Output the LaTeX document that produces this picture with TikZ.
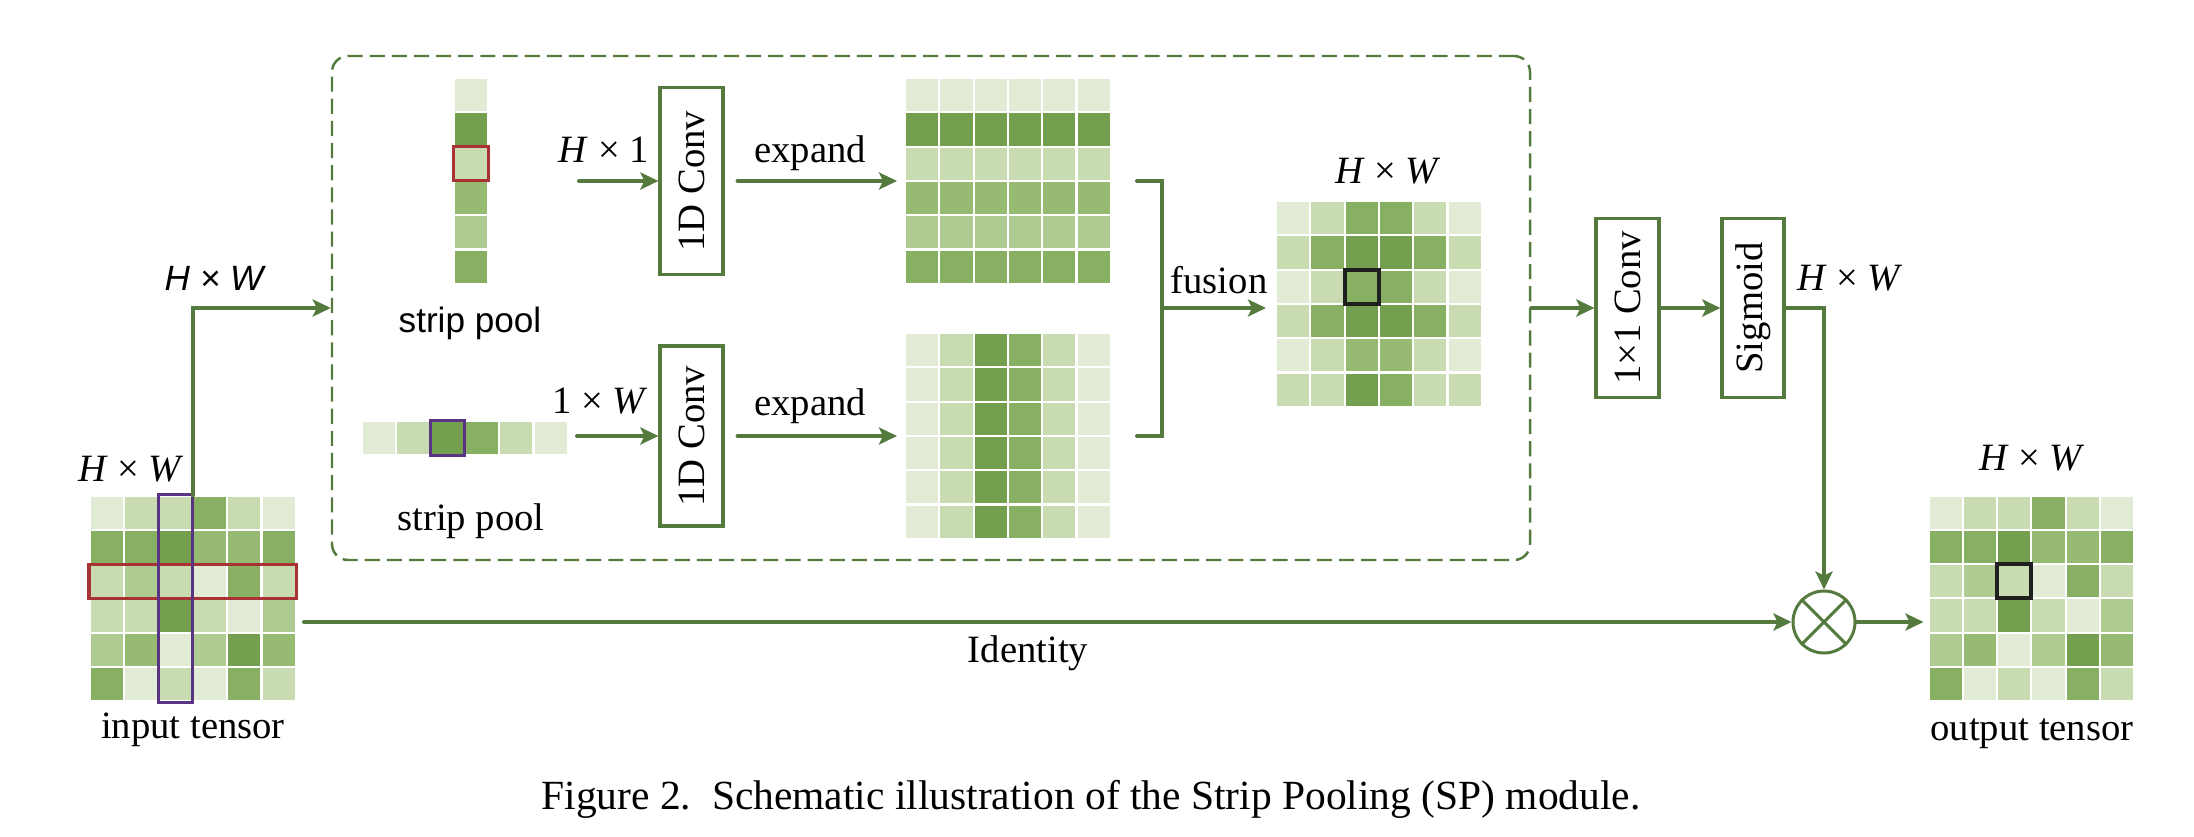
\documentclass[tikz,border=0pt]{standalone}
\usepackage{fontspec}
\setmainfont{Liberation Serif}
\setsansfont{Liberation Sans}
\usepackage{graphicx}
\usepackage{tikz}
\usetikzlibrary{arrows.meta,positioning}
\definecolor{darkgreen}{RGB}{84,122,62}
\definecolor{g1}{HTML}{E2EBD6}
\definecolor{g2}{HTML}{C9DBB0}
\definecolor{g3}{HTML}{AFCB91}
\definecolor{g4}{HTML}{97BA72}
\definecolor{g5}{HTML}{88B062}
\definecolor{g6}{HTML}{739F4F}
\definecolor{markred}{RGB}{168,50,52}
\definecolor{markpurple}{RGB}{88,52,130}

\newcommand{\lblfont}{\fontsize{11}{13}\selectfont}
\newcommand{\hxw}{\textit{H} × \textit{W}}
\newcommand{\cellsz}{0.343}
% one coloured cell grid, filled row by row from the top left corner of a node
\newcommand{\cellgrid}[2]{%
  \foreach \cellrow [count=\ri from 0] in {#2}
    \foreach \cellval [count=\ci from 0] in \cellrow
      \draw[cell, fill=g\cellval] ([shift={(\ci*\cellsz,-\ri*\cellsz)}]#1.north west) rectangle ++(\cellsz,-\cellsz);%
}

\tikzset{
  flow/.style={draw=darkgreen, line width=1.15pt, line cap=round},
  arr/.style={flow, -{Stealth[length=0.18cm, width=0.17cm, inset=0.04cm]}},
  opbox/.style={draw=darkgreen, line width=0.9pt, minimum width=0.63cm, inner sep=0pt, font=\lblfont},
  gridbox/.style={minimum size=2.06cm, inner sep=0pt, outer sep=0pt},
  cell/.style={draw=white, line width=0.6pt},
  lbl/.style={font=\lblfont, inner sep=0pt},
  spframe/.style={draw=darkgreen, line width=0.7pt, dash pattern=on 4.3pt off 2pt, rounded corners=0.16cm, minimum width=11.98cm, minimum height=5.04cm},
  redmark/.style={draw=markred, line width=0.9pt},
  purplemark/.style={draw=markpurple, line width=0.9pt},
  blackmark/.style={draw=black!88, line width=1.1pt},
  mulnode/.style={circle, draw=darkgreen, line width=0.85pt, minimum size=0.62cm, inner sep=0pt}
}

\begin{document}
\begin{tikzpicture}
  \useasboundingbox (0,0) rectangle (21.94,8.36);

  % strip pooling block
  \node[spframe] (spbox) at (9.31,5.28) {};

  % input tensor
  \node[gridbox] (inp) at (1.93,2.375) {};
  \cellgrid{inp}{{1,2,2,5,2,1},{5,5,6,4,4,5},{2,3,2,1,5,2},{2,2,6,2,1,3},{3,4,1,3,6,4},{5,1,2,1,5,2}}
  \draw[redmark] ([shift={(-0.01,-2*\cellsz)}]inp.north west) rectangle ++(6*\cellsz+0.02,-\cellsz);
  \draw[purplemark] ([shift={(2*\cellsz,0.01)}]inp.north west) rectangle ++(\cellsz,-6*\cellsz-0.02);
  \node[lbl, anchor=base] (inphw) at (1.31,3.55) {\hxw};
  \node[lbl, anchor=base] (inplbl) at (1.93,0.98) {input tensor};

  % H x 1 branch
  \node[gridbox, minimum width=0.343cm] (hstrip) at (4.71,6.55) {};
  \cellgrid{hstrip}{{1},{6},{2},{4},{3},{5}}
  \draw[redmark] ([shift={(0,-2*\cellsz)}]hstrip.north west) rectangle ++(\cellsz,-\cellsz);
  \node[lbl, font=\sffamily\fontsize{10}{12}\selectfont, anchor=base] (hpool) at (4.70,5.04) {strip pool};
  \node[opbox, minimum height=1.87cm] (hconv) at (6.915,6.55) {\rotatebox{90}{1D Conv}};
  \coordinate (hin) at (5.79,6.55);
  \draw[arr] (hin) -- (hconv.west);
  \node[lbl, anchor=base] (hsize) at (6.04,6.74) {\textit{H} × 1};
  \node[gridbox] (rows) at (10.08,6.55) {};
  \cellgrid{rows}{{1,1,1,1,1,1},{6,6,6,6,6,6},{2,2,2,2,2,2},{4,4,4,4,4,4},{3,3,3,3,3,3},{5,5,5,5,5,5}}
  \draw[arr, shorten <=0.13cm, shorten >=0.08cm] (hconv.east) -- (rows.west);
  \node[lbl, anchor=base] (hexp) at (8.10,6.74) {expand};

  % 1 x W branch
  \node[gridbox, minimum height=0.343cm] (wstrip) at (4.65,3.98) {};
  \cellgrid{wstrip}{{1,2,6,5,2,1}}
  \draw[purplemark] ([shift={(2*\cellsz,0)}]wstrip.north west) rectangle ++(\cellsz,-\cellsz);
  \node[lbl, anchor=base] (wpool) at (4.71,3.06) {strip pool};
  \node[opbox, minimum height=1.80cm] (wconv) at (6.915,4.00) {\rotatebox{90}{1D Conv}};
  \coordinate (win) at (5.77,4.00);
  \draw[arr] (win) -- (wconv.west);
  \node[lbl, anchor=base] (wsize) at (6.00,4.23) {1 × \textit{W}};
  \node[gridbox] (cols) at (10.08,4.00) {};
  \cellgrid{cols}{{1,2,6,5,2,1},{1,2,6,5,2,1},{1,2,6,5,2,1},{1,2,6,5,2,1},{1,2,6,5,2,1},{1,2,6,5,2,1}}
  \draw[arr, shorten <=0.13cm, shorten >=0.08cm] (wconv.east) -- (cols.west);
  \node[lbl, anchor=base] (wexp) at (8.10,4.21) {expand};

  % fusion
  \coordinate (fuse) at (11.62,5.28);
  \coordinate (brtop) at (11.37,6.55);
  \coordinate (brbot) at (11.37,4.00);
  \draw[flow] (brtop) -| (fuse) |- (brbot);
  \node[gridbox] (fus) at (13.79,5.32) {};
  \cellgrid{fus}{{1,2,5,5,2,1},{2,5,6,6,5,2},{1,2,5,5,2,1},{2,5,6,6,5,2},{1,2,4,4,2,1},{2,2,6,5,2,2}}
  \draw[blackmark] ([shift={(2*\cellsz,-2*\cellsz)}]fus.north west) rectangle ++(\cellsz,-\cellsz);
  \draw[arr, shorten >=0.1cm] (fuse) -- (fuse -| fus.west);
  \node[lbl, anchor=base] (fuslbl) at (12.19,5.43) {fusion};
  \node[lbl, anchor=base] (fushw) at (13.88,6.53) {\hxw};

  % input to block
  \draw[arr] (inp.north) |- (spbox.west);
  \node[lbl, font=\sffamily\itshape\fontsize{10}{12}\selectfont, anchor=base] (sphw) at (2.14,5.46) {H × W};

  % 1x1 conv and sigmoid
  \node[opbox, minimum height=1.79cm] (pconv) at (16.275,5.28) {\rotatebox{90}{1×1 Conv}};
  \node[opbox, minimum height=1.79cm, minimum width=0.62cm] (sig) at (17.53,5.28) {\rotatebox{90}{Sigmoid}};
  \draw[arr] (spbox.east) -- (pconv.west);
  \draw[arr] (pconv.east) -- (sig.west);
  \node[lbl, anchor=base] (sighw) at (18.50,5.46) {\hxw};

  % product with identity
  \node[mulnode] (mul) at (18.24,2.14) {};
  \draw[darkgreen, line width=0.85pt] (mul.north east) -- (mul.south west) (mul.north west) -- (mul.south east);
  \draw[arr] (sig.east) -| (mul.north);
  \coordinate (idstart) at (3.04,2.14);
  \draw[arr] (idstart) -- (mul.west);
  \node[lbl, anchor=base] (idlbl) at (10.28,1.74) {Identity};

  % output tensor
  \node[gridbox] (outp) at (20.315,2.375) {};
  \cellgrid{outp}{{1,2,2,5,2,1},{5,5,6,4,4,5},{2,3,2,1,5,2},{2,2,6,2,1,3},{3,4,1,3,6,4},{5,1,2,1,5,2}}
  \draw[blackmark] ([shift={(2*\cellsz,-2*\cellsz)}]outp.north west) rectangle ++(\cellsz,-\cellsz);
  \draw[arr, shorten >=0.05cm] (mul.east) -- (mul.east -| outp.west);
  \node[lbl, anchor=base] (outhw) at (20.32,3.66) {\hxw};
  \node[lbl, anchor=base] (outlbl) at (20.32,0.96) {output tensor};

  \node[font=\fontsize{11.8}{14}\selectfont, anchor=base, inner sep=0pt] (caption) at (10.91,0.27) {Figure 2.\ \ Schematic illustration of the Strip Pooling (SP) module.};
\end{tikzpicture}
\end{document}
